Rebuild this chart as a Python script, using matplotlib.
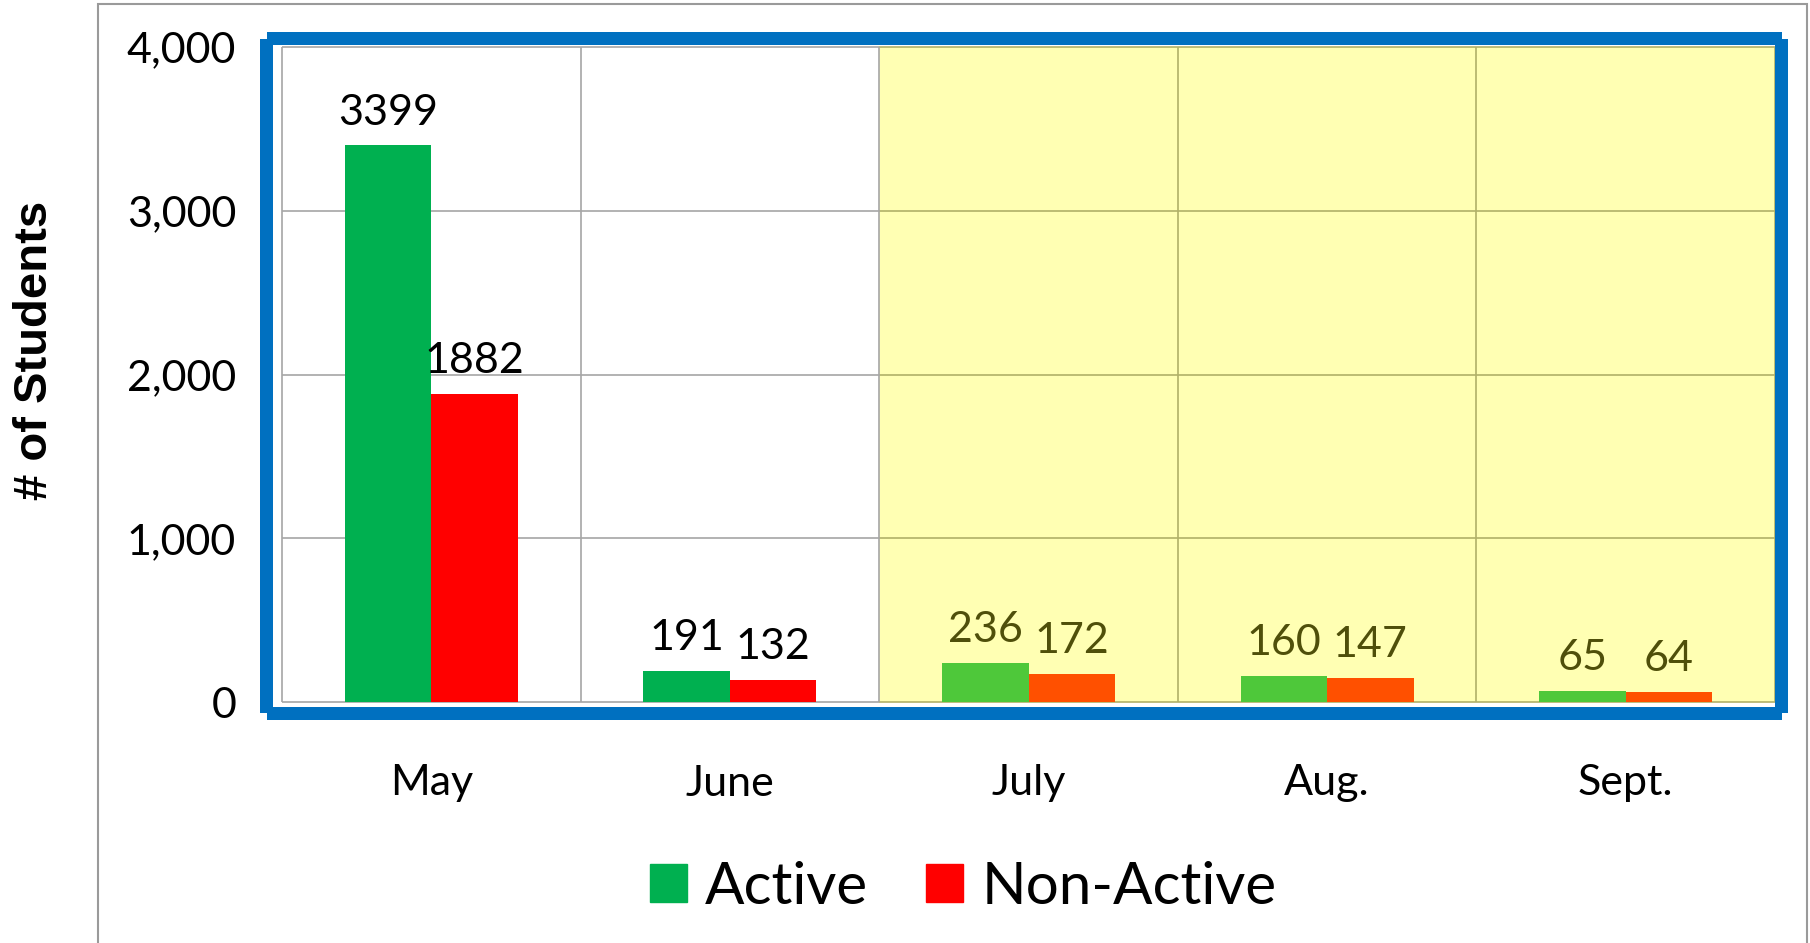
import numpy as np
import matplotlib
matplotlib.use("Agg")
import matplotlib.pyplot as plt
from matplotlib.patches import Rectangle, Patch
from matplotlib.ticker import StrMethodFormatter

# data
months = ["May", "June", "July", "Aug.", "Sept."]
active = [3399, 191, 236, 160, 65]
non_active = [1882, 132, 172, 147, 64]
series_names = ["Active", "Non-Active"]
y_ticks = [0, 1000, 2000, 3000, 4000]

# styling (first two months on white, the rest on a yellow band)
green = ["#00B050", "#00B050", "#4EC83A", "#4EC83A", "#4EC83A"]
red = ["#FF0000", "#FF0000", "#FF5000", "#FF5000", "#FF5000"]
label_col = ["black", "black", "#4F4F0A", "#4F4F0A", "#4F4F0A"]
yellow = "#FFFFB3"
grid_grey = "#A6A6A6"
grid_olive = "#B0B068"
blue = "#0070C0"
font = ["Lato", "DejaVu Sans"]

W, H = 1810, 943
fig = plt.figure(figsize=(W / 100, H / 100), dpi=100)
fig.patch.set_facecolor("white")


def px_rect(x0, y0, x1, y1, **kw):
    """Rectangle given in pixel coords measured from the top-left corner."""
    return Rectangle((x0 / W, 1 - y1 / H), (x1 - x0) / W, (y1 - y0) / H,
                     transform=fig.transFigure, **kw)


ax = fig.add_axes([282 / W, 1 - 702 / H, (1775 - 282) / W, (702 - 47) / H])
x = np.arange(len(months))
w = 0.29

ax.axvspan(1.5, len(months) - 0.5, color=yellow, zorder=0, lw=0)

# grid: grey over the white part, olive over the yellow part
ax.hlines(y_ticks, -0.5, 1.5, color=grid_grey, lw=1.2, zorder=1, clip_on=False)
ax.hlines(y_ticks, 1.5, 4.5, color=grid_olive, lw=1.2, zorder=1, clip_on=False)
bounds = x[:-1] + 0.5
ax.vlines([-0.5] + [b for b in bounds if b <= 1.5], 0, 4000, color=grid_grey,
          lw=1.2, zorder=1, clip_on=False)
ax.vlines([b for b in bounds if b > 1.5] + [4.5], 0, 4000, color=grid_olive,
          lw=1.2, zorder=1, clip_on=False)

b1 = ax.bar(x - w / 2, active, w, color=green, zorder=2)
b2 = ax.bar(x + w / 2, non_active, w, color=red, zorder=2)

for bars, vals in ((b1, active), (b2, non_active)):
    for i, (bar, v) in enumerate(zip(bars, vals)):
        ax.annotate(str(v), (bar.get_x() + bar.get_width() / 2, v),
                    xytext=(0, 10), textcoords="offset points",
                    ha="center", va="bottom", fontsize=31,
                    family=font, color=label_col[i], zorder=3)

ax.set_xlim(-0.5, len(months) - 0.5)
ax.set_ylim(0, 4000)
ax.set_xticks(x)
ax.set_xticklabels(months, family=font, fontsize=31)
ax.set_yticks(y_ticks)
ax.yaxis.set_major_formatter(StrMethodFormatter("{x:,.0f}"))
for t in ax.get_yticklabels():
    t.set_family(font)
    t.set_fontsize(31)
ax.tick_params(axis="x", length=0, pad=45)
ax.tick_params(axis="y", length=0, pad=33)
for s in ax.spines.values():
    s.set_visible(False)

# outer grey frame and the blue box around the plot area
fig.patches.append(px_rect(98, 4, 1807, 980, fill=False, ec="#9A9A9A", lw=1.5))
for r in [(267, 32, 1782, 45), (267, 707, 1782, 720),
          (260, 39, 273, 713), (1775, 39, 1788, 713)]:
    fig.patches.append(px_rect(*r, color=blue, lw=0, zorder=5))

fig.text(35 / W, 1 - 350 / H, "# of Students", rotation=90, ha="center",
         va="center", fontsize=34, fontweight="bold", family="Liberation Sans")

handles = [Patch(color=green[0]), Patch(color=red[0])]
fig.legend(handles, series_names, loc="center", bbox_to_anchor=(963 / W, 1 - 887 / H),
           ncol=2, frameon=False, prop={"family": font, "size": 42},
           handlelength=0.635, handleheight=0.635, handletextpad=0.31,
           columnspacing=1.0)

fig.savefig("out.png", dpi=100)
